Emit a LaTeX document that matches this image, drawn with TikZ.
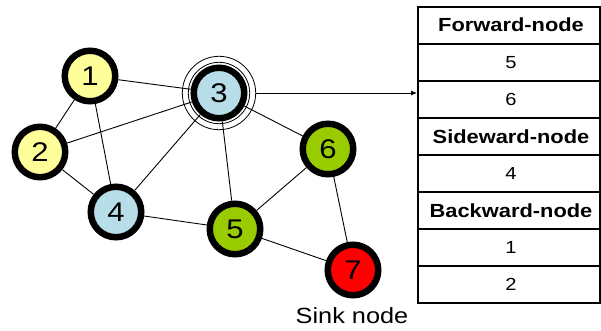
\documentclass[tikz,border=0pt]{standalone}
\usepackage{fontspec}
\setmainfont[FakeStretch=1.15]{Liberation Sans}
\usetikzlibrary{arrows.meta,backgrounds}
\definecolor{paleyellow}{HTML}{FFFF99}
\definecolor{paleblue}{HTML}{B7DEE8}
\definecolor{leafgreen}{HTML}{99CC00}
\definecolor{sinkred}{HTML}{FF0000}
\begin{document}
\begin{tikzpicture}[x=1pt,y=-1pt,
  vertex/.style={circle,draw=black,line width=6.5pt,minimum size=50.5pt,
    inner sep=0pt,font=\fontsize{27}{27}\selectfont},
  halo/.style={circle,draw=black,line width=0.8pt,inner sep=0pt},
  link/.style={line width=0.9pt},
  rule/.style={line width=2pt},
  head/.style={font=\fontsize{19}{19}\selectfont\bfseries},
  entry/.style={font=\fontsize{17.5}{17.5}\selectfont}]
\useasboundingbox (0,0) rectangle (601,331);

% graph vertices
\node[vertex,fill=paleyellow] (n1) at (90,76)  {1};
\node[vertex,fill=paleyellow] (n2) at (40,152) {2};
\node[vertex,fill=paleblue]   (n3) at (219,93) {3};
\node[vertex,fill=paleblue]   (n4) at (116,212) {4};
\node[vertex,fill=leafgreen]  (n5) at (235,229) {5};
\node[vertex,fill=leafgreen]  (n6) at (328,149) {6};
\node[vertex,fill=sinkred]    (n7) at (353,270) {7};

% rings marking the current node
\node[halo,minimum size=73.4pt] (ringout) at (n3) {};
\node[halo,minimum size=61.4pt] (ringin)  at (n3) {};

\node[font=\fontsize{22}{22}\selectfont] (sink) at (352,316) {Sink node};

% links between neighbours
\begin{scope}[on background layer]
  \draw[link] (n1) -- (n3);
  \draw[link] (n1) -- (n2);
  \draw[link] (n1) -- (n4);
  \draw[link] (n2) -- (n3);
  \draw[link] (n2) -- (n4);
  \draw[link] (n3) -- (n4);
  \draw[link] (n3) -- (n5);
  \draw[link] (n3) -- (n6);
  \draw[link] (n4) -- (n5);
  \draw[link] (n5) -- (n6);
  \draw[link] (n5) -- (n7);
  \draw[link] (n6) -- (n7);
\end{scope}

% neighbour table
\foreach \k in {0,...,8} {
  \draw[rule] (418,{6.6+37.1*\k}) -- (600,{6.6+37.1*\k});
}
\draw[line width=2.5pt] (418,5.6) -- (418,304.4);
\draw[rule] (600,5.6) -- (600,304.4);

\node[head]  (fwd)  at (511,25.15)  {Forward-node};
\node[entry] (f5)   at (511,62.25)  {5};
\node[entry] (f6)   at (511,99.35)  {6};
\node[head]  (side) at (511,136.45) {Sideward-node};
\node[entry] (s4)   at (511,173.55) {4};
\node[head]  (back) at (511,210.65) {Backward-node};
\node[entry] (b1)   at (511,247.75) {1};
\node[entry] (b2)   at (511,284.85) {2};

\coordinate (tblin) at (417,93);
\draw[link,-{Latex[length=6pt,width=5pt]}] (ringout.east) -- (tblin);
\end{tikzpicture}
\end{document}
